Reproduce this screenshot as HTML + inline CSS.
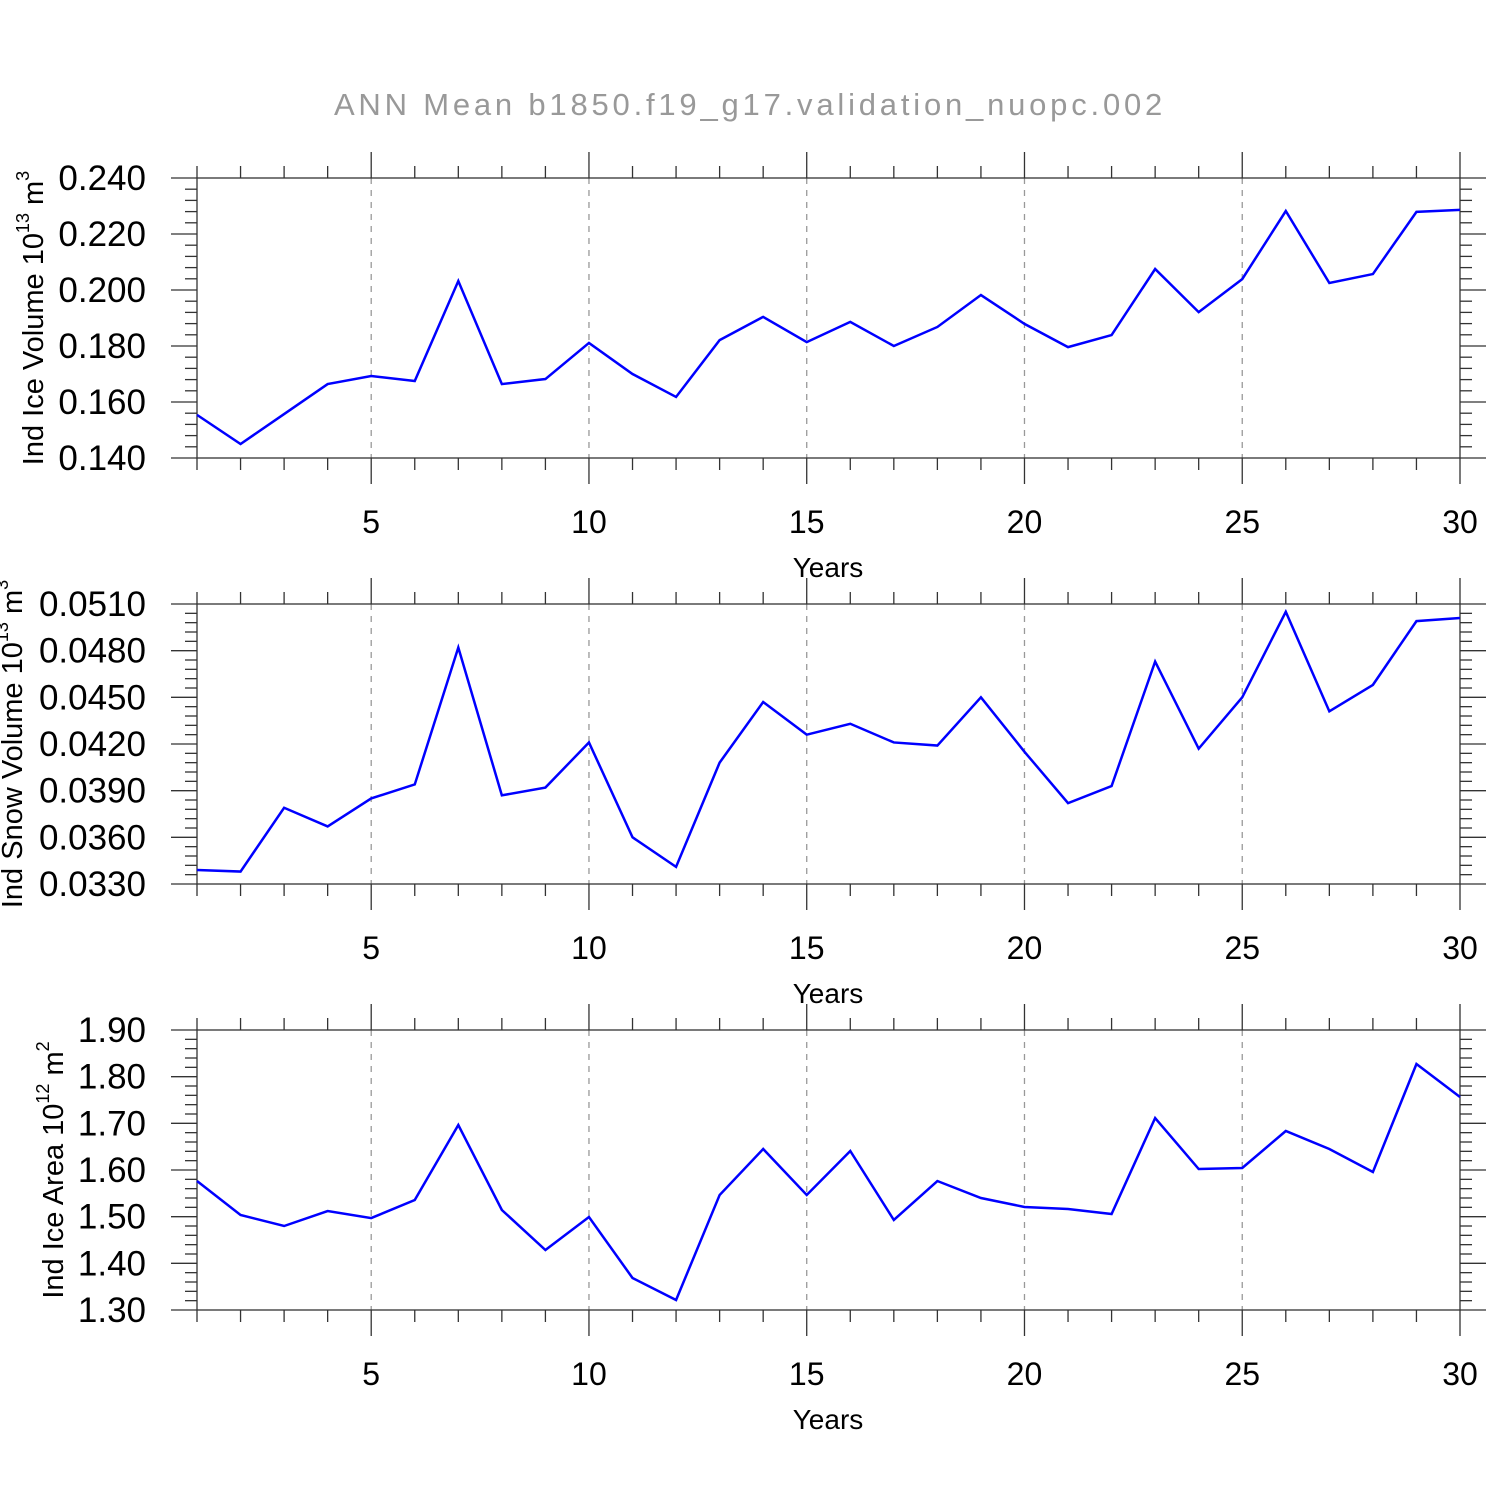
<!DOCTYPE html>
<html><head><meta charset="utf-8"><style>body{margin:0;background:#fff}svg{display:block}</style></head>
<body>
<svg id="c" width="1500" height="1500" xmlns="http://www.w3.org/2000/svg" font-family="Liberation Sans, sans-serif">
<text x="750" y="115" text-anchor="middle" font-size="31" fill="#999" letter-spacing="3.8" font-weight="300">ANN  Mean  b1850.f19_g17.validation_nuopc.002</text>
</svg>
<script>
const years = [1,2,3,4,5,6,7,8,9,10,11,12,13,14,15,16,17,18,19,20,21,22,23,24,25,26,27,28,29,30];
const iceVolume = [0.1554,0.145,0.1557,0.1664,0.1693,0.1675,0.2032,0.1664,0.1682,0.1811,0.170,0.1618,0.1821,0.1904,0.1814,0.1886,0.180,0.1868,0.1982,0.1879,0.1796,0.1839,0.2075,0.1921,0.2039,0.2282,0.2025,0.2057,0.2279,0.2286];
const snowVolume = [0.0339,0.0338,0.0379,0.0367,0.0385,0.0394,0.0482,0.0387,0.0392,0.0421,0.0360,0.0341,0.0408,0.0447,0.0426,0.0433,0.0421,0.0419,0.0450,0.0415,0.0382,0.0393,0.0473,0.0417,0.0450,0.0505,0.0441,0.0458,0.0499,0.0501];
const iceArea = [1.5764,1.5036,1.48,1.5121,1.497,1.5357,1.6964,1.5143,1.4286,1.4993,1.3686,1.3214,1.5464,1.645,1.5464,1.6407,1.4929,1.5764,1.54,1.5207,1.5164,1.5057,1.7114,1.6021,1.6043,1.6836,1.645,1.5957,1.8271,1.7564];
const xTicks = [5,10,15,20,25,30];
const iceVolTicks = ["0.140","0.160","0.180","0.200","0.220","0.240"];
const snowVolTicks = ["0.0330","0.0360","0.0390","0.0420","0.0450","0.0480","0.0510"];
const iceAreaTicks = ["1.30","1.40","1.50","1.60","1.70","1.80","1.90"];

const svg = document.getElementById('c');
const NS = 'http://www.w3.org/2000/svg';
function mk(tag, attrs, parent){const e=document.createElementNS(NS,tag);for(const k in attrs)e.setAttribute(k,attrs[k]);(parent||svg).appendChild(e);return e;}
const X0=197,X1=1460;
function xs(y){return X0+(y-1)/(30-1)*(X1-X0);}

function panel(top, ticks, data, ylab, sup, name){
  const bot=top+280;
  const g=mk('g',{});
  
  
  const vmin=parseFloat(ticks[0]), vmax=parseFloat(ticks[ticks.length-1]);
  const ys=v=>bot-(v-vmin)/(vmax-vmin)*280;
  xTicks.forEach(t=>{ if(t<30){const l=mk('line',{x1:xs(t),x2:xs(t),y1:top,y2:bot,stroke:'#999','stroke-width':1.3,'stroke-dasharray':'6,6'},g);
    
    }});
  const st={stroke:'#333','stroke-width':1.3};
  years.forEach(y=>{const x=xs(y);const maj=xTicks.includes(y);const L=maj?26:12;
    mk('line',Object.assign({x1:x,x2:x,y1:top-L,y2:top},st),g);
    mk('line',Object.assign({x1:x,x2:x,y1:bot,y2:bot+L},st),g);});
  const step=(vmax-vmin)/(ticks.length-1);
  for(let i=0;i<ticks.length;i++){
    const y=ys(vmin+i*step);
    mk('line',Object.assign({x1:X0-26,x2:X0,y1:y,y2:y},st),g);
    mk('line',Object.assign({x1:X1,x2:X1+26,y1:y,y2:y},st),g);
    const t=mk('text',{x:146,y:y+12,'text-anchor':'end','font-size':35},g);t.textContent=ticks[i];
    
    
    if(i<ticks.length-1) for(let k=1;k<5;k++){const yy=ys(vmin+i*step+k*step/5);
      mk('line',Object.assign({x1:X0-12,x2:X0,y1:yy,y2:yy},st),g);
      mk('line',Object.assign({x1:X1,x2:X1+12,y1:yy,y2:yy},st),g);}
  }
  mk('rect',{x:X0,y:top,width:X1-X0,height:280,fill:'none',stroke:'#333','stroke-width':1.3},g);
  xTicks.forEach(t=>{const tx=mk('text',{x:xs(t),y:bot+75,'text-anchor':'middle','font-size':32},g);tx.textContent=t;
    
    });
  const xl=mk('text',{x:828,y:bot+119,'text-anchor':'middle','font-size':28},g);xl.textContent='Years';
  
  
  const p=mk('polyline',{points:data.map((v,i)=>xs(years[i])+','+ys(v)).join(' '),fill:'none',stroke:'#0000ff','stroke-width':2.5},g);
  
  
  const yl=mk('text',{transform:`translate(${ylab.x},${top+140}) rotate(-90)`,'text-anchor':'middle','font-size':29},g);
  yl.innerHTML=ylab.t+' 10<tspan font-size="18" dy="-14">'+sup[0]+'</tspan><tspan dy="14"> m</tspan><tspan font-size="18" dy="-14">'+sup[1]+'</tspan>';
  
  
}
panel(178, iceVolTicks, iceVolume, {x:43,t:'Ind Ice Volume'}, ['13','3'], 'ice-volume');
panel(604, snowVolTicks, snowVolume, {x:22,t:'Ind Snow Volume'}, ['13','3'], 'snow-volume');
panel(1030, iceAreaTicks, iceArea, {x:63,t:'Ind Ice Area'}, ['12','2'], 'ice-area');
</script>
</body></html>
